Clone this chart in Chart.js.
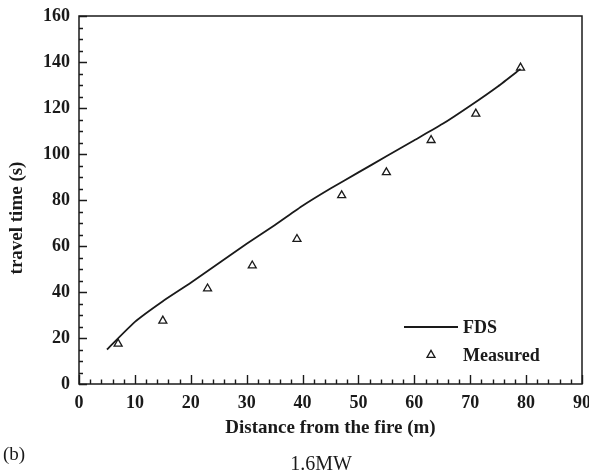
<!DOCTYPE html>
<html>
<head>
<meta charset="utf-8">
<script src="https://cdn.jsdelivr.net/npm/chart.js@4.4.0/dist/chart.umd.min.js"></script>
<style>
  html, body { margin: 0; padding: 0; background: #fff; }
</style>
</head>
<body>
<canvas id="chart" width="589" height="476"></canvas>
<script>
// FDS simulation curve
const fdsDistance = [5, 10, 15, 20, 25, 30, 35, 40, 45, 50, 55, 60, 65, 70, 75, 79];
const fdsTime = [15, 27, 36, 44, 52.5, 61, 69, 77.5, 85, 92, 99, 106, 113, 121, 129.5, 137];

// measured points
const measuredDistance = [7, 15, 23, 31, 39, 47, 55, 63, 71, 79];
const measuredTime = [17.5, 27.5, 41.5, 51.5, 63, 82, 92, 106, 117.5, 137.5];

const xTickLabels = [0, 10, 20, 30, 40, 50, 60, 70, 80, 90];
const yTickLabels = [0, 20, 40, 60, 80, 100, 120, 140, 160];
const xMinorStep = 2;
const yMinorStep = 5;

const ink = '#1a1a1a';
const serif = '"Liberation Serif", "Times New Roman", serif';
const tickFont = { family: serif, size: 18, weight: 'bold' };

function toPoints(xs, ys) {
    return xs.map((x, i) => ({ x: x, y: ys[i] }));
}

function stepsOf(labels, step) {
    const out = [];
    const last = labels[labels.length - 1];
    for (let v = labels[0]; v <= last + 1e-9; v += step) out.push(v);
    return out;
}

// рамка, тіки всередину, підписи і легенда
const decor = {
    id: 'decor',
    afterDraw(chart) {
        const ctx = chart.ctx;
        const a = chart.chartArea;
        const xs = chart.scales.x;
        const ys = chart.scales.y;
        ctx.save();
        ctx.strokeStyle = ink;
        ctx.lineWidth = 1.4;
        ctx.beginPath();
        stepsOf(xTickLabels, xMinorStep).forEach(v => {
            const p = Math.round(xs.getPixelForValue(v)) + 0.5;
            const len = xTickLabels.includes(v) ? 9 : 4.5;
            ctx.moveTo(p, a.bottom);
            ctx.lineTo(p, a.bottom - len);
        });
        stepsOf(yTickLabels, yMinorStep).forEach(v => {
            const p = Math.round(ys.getPixelForValue(v)) + 0.5;
            const len = yTickLabels.includes(v) ? 8 : 4;
            ctx.moveTo(a.left, p);
            ctx.lineTo(a.left + len, p);
        });
        ctx.stroke();

        ctx.lineWidth = 1.5;
        ctx.strokeRect(a.left, a.top, a.right - a.left, a.bottom - a.top);

        ctx.fillStyle = ink;
        ctx.textBaseline = 'middle';

        // y title
        ctx.save();
        ctx.font = 'bold 19px ' + serif;
        ctx.translate(17, 218);
        ctx.rotate(-Math.PI / 2);
        ctx.textAlign = 'center';
        ctx.fillText('travel time (s)', 0, 0);
        ctx.restore();

        // legend
        const fds = chart.data.datasets[0];
        const meas = chart.data.datasets[1];
        ctx.strokeStyle = fds.borderColor;
        ctx.lineWidth = fds.borderWidth;
        ctx.beginPath();
        ctx.moveTo(404, 327);
        ctx.lineTo(458, 327);
        ctx.stroke();
        ctx.strokeStyle = meas.pointBorderColor;
        ctx.fillStyle = meas.pointBackgroundColor;
        ctx.lineWidth = meas.pointBorderWidth;
        Chart.helpers.drawPoint(ctx, {
            pointStyle: 'triangle', radius: meas.pointRadius, rotation: 0, borderWidth: meas.pointBorderWidth
        }, 431, 355);

        ctx.fillStyle = ink;
        ctx.font = 'bold 18px ' + serif;
        ctx.textAlign = 'left';
        ctx.fillText('FDS', 463, 328);
        ctx.fillText('Measured', 463, 356);

        ctx.font = '19px ' + serif;
        ctx.fillText('(b)', 3, 455);
        ctx.font = '20px ' + serif;
        ctx.textAlign = 'center';
        ctx.fillText('1.6MW', 321, 465);
        ctx.restore();
    }
};

new Chart(document.getElementById('chart'), {
    type: 'scatter',
    data: {
        datasets: [{
            label: 'FDS',
            type: 'line',
            data: toPoints(fdsDistance, fdsTime),
            borderColor: ink,
            borderWidth: 1.8,
            pointRadius: 0,
            tension: 0.15,
            fill: false
        }, {
            label: 'Measured',
            data: toPoints(measuredDistance, measuredTime),
            showLine: false,
            pointStyle: 'triangle',
            pointRadius: 4.6,
            pointBorderWidth: 1.3,
            pointBorderColor: ink,
            pointBackgroundColor: 'rgba(255,255,255,0)'
        }]
    },
    options: {
        responsive: false,
        animation: false,
        layout: { padding: { top: 16, right: 7, bottom: 36, left: 0 } },
        plugins: {
            legend: { display: false },
            tooltip: { enabled: false }
        },
        scales: {
            x: {
                type: 'linear',
                position: 'bottom',
                min: xTickLabels[0],
                max: xTickLabels[xTickLabels.length - 1],
                ticks: { stepSize: xTickLabels[1] - xTickLabels[0], padding: 9, color: ink, font: tickFont },
                grid: { display: false, drawTicks: false },
                border: { display: false },
                title: {
                    display: true,
                    text: 'Distance from the fire (m)',
                    color: ink,
                    font: { family: serif, size: 19, weight: 'bold' },
                    padding: { top: 0, bottom: 1 }
                },
                afterFit: s => { s.height = 56; s.paddingLeft = 0; s.paddingRight = 0; }
            },
            y: {
                type: 'linear',
                position: 'left',
                min: yTickLabels[0],
                max: yTickLabels[yTickLabels.length - 1],
                ticks: { stepSize: yTickLabels[1] - yTickLabels[0], padding: 9, color: ink, font: tickFont },
                grid: { display: false, drawTicks: false },
                border: { display: false },
                afterFit: s => { s.width = 79; s.paddingTop = 0; s.paddingBottom = 0; }
            }
        }
    },
    plugins: [decor]
});
</script>
</body>
</html>
